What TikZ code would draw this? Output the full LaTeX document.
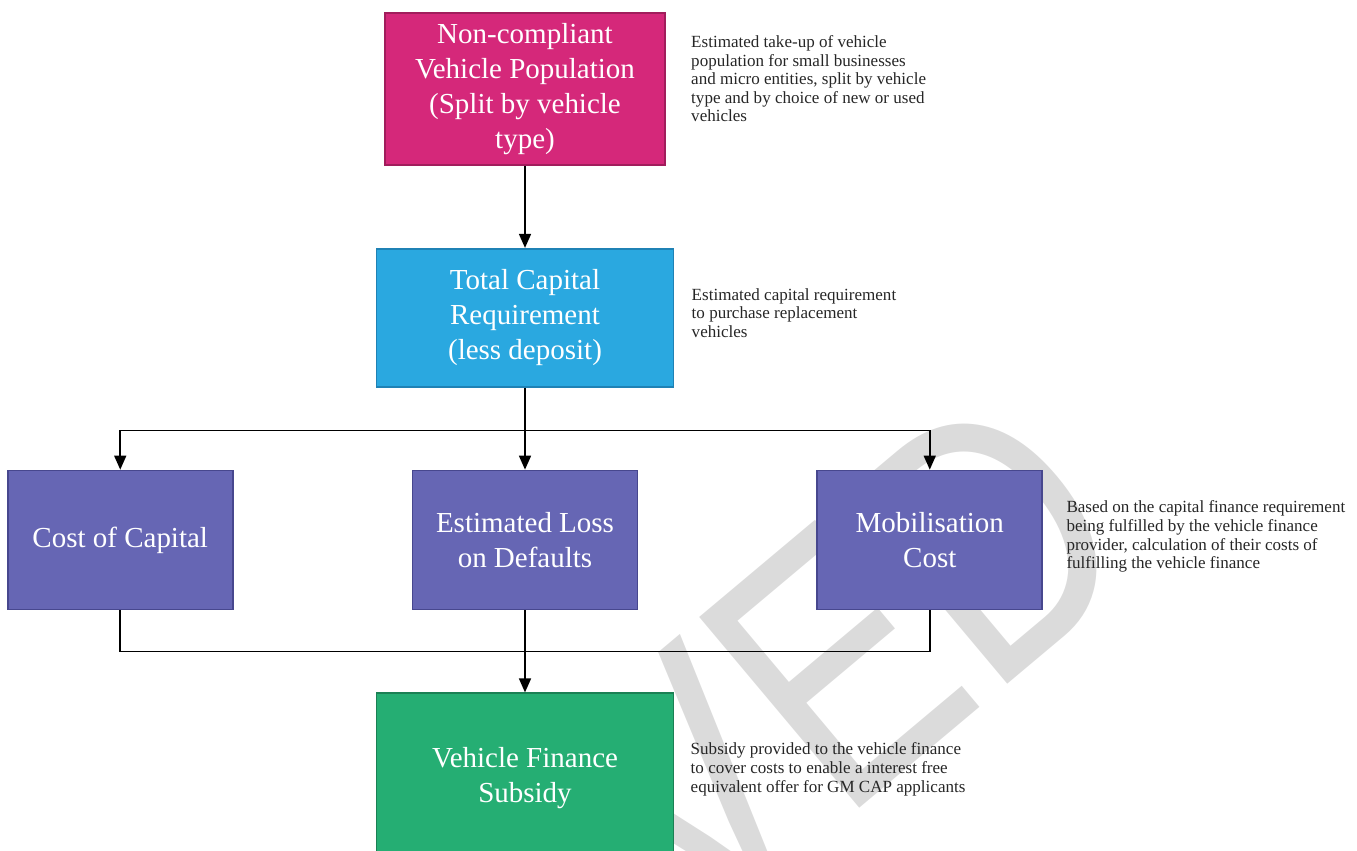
\documentclass[tikz,border=0pt]{standalone}
\usepackage{fontspec}
\setmainfont{Liberation Serif}
\setsansfont{Liberation Sans}
\usetikzlibrary{positioning,arrows.meta,calc}
\definecolor{popfill}{HTML}{D5287A}
\definecolor{popline}{HTML}{A11D5C}
\definecolor{capfill}{HTML}{2AA8E0}
\definecolor{capline}{HTML}{1F82B5}
\definecolor{costfill}{HTML}{6666B4}
\definecolor{costline}{HTML}{47478E}
\definecolor{subfill}{HTML}{25AE73}
\definecolor{subline}{HTML}{1B8054}

\begin{document}
\begin{tikzpicture}[
  block/.style={draw, line width=1pt, align=center, text=white,
    font=\fontsize{16.5}{19.9}\selectfont},
  cost/.style={block, fill=costfill, draw=costline, minimum width=4.5cm,
    minimum height=2.78cm},
  note/.style={anchor=north west, align=left, inner sep=0pt, text=black!85,
    font=\fontsize{9.7}{10.6}\selectfont},
  arrow/.style={-{Triangle[length=2.8mm,width=2.4mm]}, line width=0.9pt},
  link/.style={line width=0.9pt},
  node distance=1.64cm and 3.56cm
]
\clip (0,0) rectangle (27.14,-17);
% watermark behind everything
\node[rotate=40, xscale=0.8, anchor=base east, inner sep=0pt,
  text=black!14, font=\sffamily\fontsize{206}{206}\selectfont] (mark)
  at (23.0,-11.3) {ARCHIVED};
\node[block, fill=popfill, draw=popline, minimum width=5.6cm,
  minimum height=3.04cm] (pop) at (10.5,-1.78) {Non-compliant\\
Vehicle Population\\ (Split by vehicle\\ type)};
\node[block, fill=capfill, draw=capline, minimum width=5.94cm,
  minimum height=2.76cm, below=of pop] (cap) {Total Capital\\
Requirement\\ (less deposit)};
\node[cost, below=of cap] (loss) {Estimated Loss\\ on Defaults};
\node[cost, left=of loss] (coc) {Cost of Capital};
\node[cost, right=of loss] (mob) {Mobilisation\\ Cost};
\node[block, fill=subfill, draw=subline, minimum width=5.94cm,
  minimum height=3.4cm, below=of loss] (sub) {Vehicle Finance\\ Subsidy};
\coordinate (split) at ($(cap.south)+(0,-0.86)$);
\coordinate (merge) at ($(loss.south)+(0,-0.82)$);
\foreach \a/\b in {pop/cap, cap/loss, loss/sub}
  \draw[arrow] (\a) -- (\b);
\draw[arrow] (split) -| (coc.north);
\draw[arrow] (split) -| (mob.north);
\draw[link] (coc.south) |- (merge) -| (mob.south);
\node[note] (popnote) at ($(pop.north east)+(0.5,-0.46)$) {Estimated
take-up of vehicle\\ population for small businesses\\ and micro
entities, split by vehicle\\ type and by choice of new or used\\
vehicles};
\node[note] (capnote) at ($(cap.north east)+(0.34,-0.8)$) {Estimated
capital requirement\\ to purchase replacement\\ vehicles};
\node[note] (mobnote) at ($(mob.north east)+(0.46,-0.62)$) {Based on the
capital finance requirement\\ being fulfilled by the vehicle finance\\
provider, calculation of their costs of\\ fulfilling the vehicle finance};
\node[note] (subnote) at ($(sub.north east)+(0.32,-1.0)$) {Subsidy
provided to the vehicle finance\\ to cover costs to enable a interest
free\\ equivalent offer for GM CAP applicants};
\end{tikzpicture}
\end{document}
